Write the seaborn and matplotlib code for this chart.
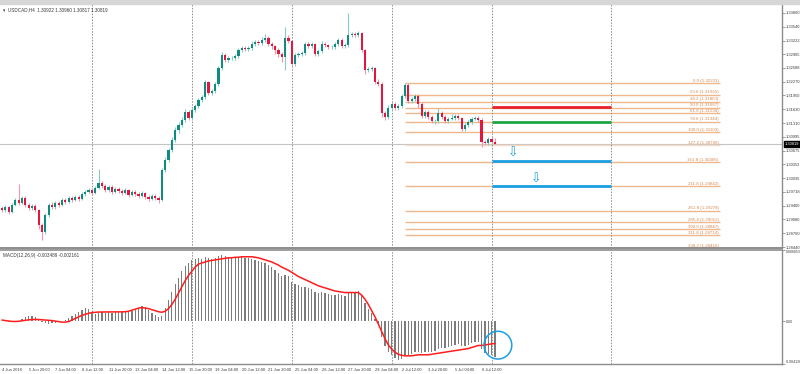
import matplotlib
matplotlib.use("Agg")
import matplotlib.pyplot as plt
import numpy as np
import seaborn as sns

# ---- USDCAD H4 candles (bar 0 = 4 Jun 2018 12:00) ----
first_open = 1.2935
closes = [1.2930, 1.2937, 1.2925, 1.2941, 1.2953, 1.2946, 1.2958, 1.2941, 1.2934, 1.2939,
          1.2930, 1.2895, 1.2879, 1.2918, 1.2941, 1.2937, 1.2946, 1.2941, 1.2953, 1.2948,
          1.2958, 1.2953, 1.2960, 1.2955, 1.2967, 1.2971, 1.2976, 1.2969, 1.2981, 1.2992,
          1.2985, 1.2976, 1.2983, 1.2971, 1.2978, 1.2974, 1.2969, 1.2976, 1.2964, 1.2971,
          1.2967, 1.2962, 1.2969, 1.2960, 1.2955, 1.2962, 1.2958, 1.2953, 1.3022, 1.3046,
          1.3069, 1.3092, 1.3115, 1.3127, 1.3138, 1.3157, 1.3143, 1.3161, 1.3171, 1.3185,
          1.3191, 1.3226, 1.3201, 1.3205, 1.3222, 1.3259, 1.3289, 1.3277, 1.3282, 1.3282,
          1.3286, 1.3300, 1.3305, 1.3303, 1.3305, 1.3314, 1.3319, 1.3317, 1.3323, 1.3328,
          1.3314, 1.3310, 1.3300, 1.3291, 1.3284, 1.3328, 1.3321, 1.3268, 1.3289, 1.3291,
          1.3293, 1.3314, 1.3310, 1.3314, 1.3291, 1.3298, 1.3314, 1.3312, 1.3307, 1.3307,
          1.3314, 1.3323, 1.3310, 1.3312, 1.3335, 1.3337, 1.3335, 1.3340, 1.3300, 1.3254,
          1.3256, 1.3259, 1.3226, 1.3222, 1.3154, 1.3145, 1.3166, 1.3175, 1.3166, 1.3171,
          1.3194, 1.3219, 1.3182, 1.3187, 1.3194, 1.3175, 1.3147, 1.3157, 1.3145, 1.3136,
          1.3136, 1.3154, 1.3145, 1.3136, 1.3141, 1.3143, 1.3147, 1.3143, 1.3117, 1.3127,
          1.3134, 1.3141, 1.3143, 1.3138, 1.3087, 1.3085, 1.3094, 1.3087, 1.30819]
highs = [1.2940, 1.2942, 1.2940, 1.2946, 1.2958, 1.2990, 1.2963, 1.2961, 1.2945, 1.2944,
         1.2943, 1.2933, 1.2900, 1.2922, 1.2946, 1.2948, 1.2950, 1.2951, 1.2957, 1.2958,
         1.2963, 1.2962, 1.2965, 1.2964, 1.2971, 1.2976, 1.2981, 1.2980, 1.2986, 1.3025,
         1.2997, 1.2989, 1.2988, 1.2987, 1.2983, 1.2982, 1.2978, 1.2980, 1.2979, 1.2975,
         1.2975, 1.2971, 1.2973, 1.2972, 1.2964, 1.2966, 1.2966, 1.2962, 1.3027, 1.3052,
         1.3074, 1.3098, 1.3121, 1.3133, 1.3145, 1.3163, 1.3162, 1.3166, 1.3176, 1.3190,
         1.3196, 1.3230, 1.3229, 1.3210, 1.3227, 1.3264, 1.3296, 1.3293, 1.3287, 1.3286,
         1.3291, 1.3305, 1.3310, 1.3309, 1.3309, 1.3320, 1.3324, 1.3323, 1.3330, 1.3337,
         1.3332, 1.3318, 1.3313, 1.3304, 1.3295, 1.3354, 1.3334, 1.3324, 1.3294, 1.3295,
         1.3297, 1.3319, 1.3318, 1.3318, 1.3317, 1.3302, 1.3320, 1.3318, 1.3315, 1.3311,
         1.3318, 1.3328, 1.3327, 1.3316, 1.3386, 1.3342, 1.3341, 1.3345, 1.3343, 1.3303,
         1.3261, 1.3264, 1.3262, 1.3232, 1.3226, 1.3160, 1.3172, 1.3180, 1.3180, 1.3176,
         1.3199, 1.3224, 1.3223, 1.3192, 1.3198, 1.3198, 1.3180, 1.3162, 1.3162, 1.3149,
         1.3141, 1.3166, 1.3158, 1.3149, 1.3146, 1.3151, 1.3152, 1.3151, 1.3146, 1.3132,
         1.3139, 1.3146, 1.3148, 1.3147, 1.3142, 1.3092, 1.3099, 1.3098, 1.3096]
lows = [1.2925, 1.2926, 1.2920, 1.2922, 1.2938, 1.2942, 1.2943, 1.2937, 1.2929, 1.2930,
        1.2925, 1.2885, 1.2860, 1.2875, 1.2914, 1.2932, 1.2933, 1.2936, 1.2938, 1.2944,
        1.2945, 1.2949, 1.2950, 1.2951, 1.2952, 1.2963, 1.2968, 1.2965, 1.2966, 1.2978,
        1.2980, 1.2971, 1.2972, 1.2967, 1.2968, 1.2970, 1.2965, 1.2966, 1.2960, 1.2961,
        1.2963, 1.2958, 1.2959, 1.2956, 1.2950, 1.2952, 1.2954, 1.2945, 1.2950, 1.3018,
        1.3040, 1.3064, 1.3088, 1.3108, 1.3122, 1.3133, 1.3138, 1.3139, 1.3156, 1.3166,
        1.3180, 1.3187, 1.3196, 1.3196, 1.3201, 1.3218, 1.3254, 1.3272, 1.3273, 1.3277,
        1.3278, 1.3282, 1.3296, 1.3298, 1.3299, 1.3301, 1.3310, 1.3312, 1.3313, 1.3319,
        1.3309, 1.3303, 1.3290, 1.3285, 1.3272, 1.3254, 1.3316, 1.3261, 1.3263, 1.3284,
        1.3287, 1.3289, 1.3305, 1.3306, 1.3286, 1.3286, 1.3294, 1.3307, 1.3302, 1.3303,
        1.3302, 1.3309, 1.3305, 1.3306, 1.3308, 1.3330, 1.3331, 1.3331, 1.3296, 1.3245,
        1.3249, 1.3251, 1.3221, 1.3216, 1.3146, 1.3139, 1.3141, 1.3161, 1.3161, 1.3161,
        1.3167, 1.3190, 1.3177, 1.3178, 1.3183, 1.3165, 1.3142, 1.3143, 1.3140, 1.3131,
        1.3130, 1.3132, 1.3140, 1.3131, 1.3132, 1.3137, 1.3139, 1.3138, 1.3112, 1.3113,
        1.3122, 1.3130, 1.3137, 1.3133, 1.3076, 1.3080, 1.3081, 1.3083, 1.3082]

# MACD(12,26,9): main (histogram) and signal, in units of 1e-4
macd_main_e4 = [0.5, -0.3, -0.8, -1.0, -0.8, -0.5, 2, 4, 5, 5,
                4, 1, -1, -2, -2.5, -2, -1.5, -0.5, 0.5, 1.5,
                3, 5, 7, 9, 11, 13, 12, 9, 7, 8,
                9, 8, 9, 8, 9, 9, 9, 10, 9, 10,
                11, 13, 15, 14, 11, 8, 6, 4, 5, 13,
                20, 28, 36, 42, 48, 53, 56, 59, 60, 61,
                60, 62, 61, 60, 61, 63, 64, 63, 62, 61,
                61, 62, 62, 61, 61, 60, 59, 58, 57, 56,
                54, 52, 49, 46, 43, 44, 43, 38, 36, 35,
                33, 33, 32, 31, 28, 27, 28, 27, 26, 25,
                25, 26, 25, 24, 27, 28, 28, 29, 25, 17,
                12, 8, 2, -3, -15, -24, -30, -33, -36, -38,
                -37, -33, -33, -32, -30, -30, -31, -30, -30, -30,
                -29, -27, -26, -26, -25, -24, -23, -22, -24, -24,
                -23, -21, -20, -20, -27, -31, -32, -33, -34.89]
macd_signal_e4 = [1, 0.5, 0, -0.3, -0.4, -0.2, 0.3, 0.8, 1.2, 1.5,
                  1.6, 1.5, 1.2, 1.0, 0.8, 0.5, 0, -0.5, -1, -1,
                  -0.5, 1, 2.5, 4, 5.5, 6.5, 7.5, 8.2, 8.5, 8.7,
                  8.8, 8.8, 8.8, 8.7, 8.7, 8.8, 8.9, 9, 9.5, 10.5,
                  11.5, 12.5, 13, 12.5, 12, 11, 10, 9, 8.5, 9.5,
                  12, 16, 21, 27, 33, 39, 44, 48, 52, 55,
                  56, 57, 58, 58.5, 59, 59.5, 60, 60.5, 61, 61,
                  61.5, 61.5, 62, 62, 62, 62, 61.5, 61, 60, 59,
                  58, 57, 55.5, 54, 52, 50.5, 49, 47, 45, 43,
                  41.5, 40, 38.5, 37, 35.5, 34, 33, 32, 31, 30,
                  29, 28.5, 28, 27.5, 27.5, 27.5, 27.5, 27.5, 25, 21,
                  16, 10, 4, -3, -10, -17, -23, -27, -30, -32,
                  -33, -33.5, -33.5, -33.5, -33, -32.5, -32.5, -32.5, -32.5, -32,
                  -31.5, -31, -30.5, -30, -29.5, -29, -28.5, -28, -27.5, -27,
                  -26.5, -25.5, -24.5, -23.5, -23.5, -23, -22.5, -22, -21.61]

# time axis
date_ticks = [0, 8, 16, 24, 32, 40, 48, 56, 64, 72, 80, 88, 96, 104, 112, 120, 128, 136, 144]
date_labels = ["4 Jun 2018", "5 Jun 20:00", "7 Jun 04:00", "8 Jun 12:00", "11 Jun 20:00",
               "13 Jun 04:00", "14 Jun 12:00", "15 Jun 20:00", "19 Jun 04:00", "20 Jun 12:00",
               "21 Jun 20:00", "25 Jun 04:00", "26 Jun 12:00", "27 Jun 20:00", "29 Jun 04:00",
               "2 Jul 12:00", "3 Jul 20:00", "5 Jul 04:00", "6 Jul 12:00"]
week_separators = [27, 57, 87, 117, 147, 183]

price_ticks = [1.33860, 1.33540, 1.33222, 1.32905, 1.32588, 1.32270, 1.31950, 1.31630,
               1.31310, 1.30995, 1.30675, 1.30352, 1.30035, 1.29718, 1.29400, 1.29080,
               1.28760, 1.28440]
last_price = 1.30819

# fibonacci expansion drawn from 2 Jul
fib_ratios = ["0.0", "23.6", "38.2", "50.0", "61.8", "78.6", "100.0", "127.2", "161.8",
              "211.8", "261.8", "285.4", "300.0", "311.8", "338.2"]
fib_prices = [1.32231, 1.31965, 1.31800, 1.31667, 1.31534, 1.31344, 1.31103, 1.30796,
              1.30406, 1.29842, 1.29278, 1.29012, 1.28847, 1.28714, 1.28416]
fib_start, fib_end = 121, 215.6

# drawn levels (start bar, end bar, price)
level_start, level_end = 147, 183
red_level = 1.31689
green_level = 1.31335
blue_levels = [1.30439, 1.29846]
arrow_bars = [153.4, 160.4]
arrow_prices = [1.30617, 1.30015]

sns.set_style("white")
plt.rcParams["font.family"] = ["Liberation Sans", "DejaVu Sans"]

UP, DOWN = "#0f8c82", "#e3173d"
UP_WICK, DOWN_WICK = "#86cbc4", "#f195a8"
SEP = "#8c8c8c"
TXT = "#3a3a3a"
FS_AX = 2.9     # axis labels
FS_TXT = 3.3    # panel titles

fig = plt.figure(figsize=(8, 3.74), dpi=100)
fig.patches.append(plt.Rectangle((0, 370 / 374), 1, 4 / 374, transform=fig.transFigure,
                                 color="#d6d6d6", zorder=0))
ax = fig.add_axes([0, 126 / 374, 782 / 800, 244 / 374])
axm = fig.add_axes([0, 10 / 374, 782 / 800, 114 / 374])

idx = np.arange(len(closes))
c = np.array(closes)
o = np.array([first_open] + closes[:-1])
up = c >= o

# candles
ax.vlines(idx, lows, highs, colors=np.where(up, UP_WICK, DOWN_WICK), lw=0.8, zorder=2)
body = np.maximum(np.abs(c - o), 0.00005)
ax.bar(idx, body, bottom=np.minimum(o, c), width=0.66,
       color=np.where(up, UP, DOWN), linewidth=0, zorder=3)

ax.axhline(last_price, color="#c4c4c4", lw=0.8, zorder=1)

# fibonacci lines + labels
for r, p in zip(fib_ratios, fib_prices):
    col = "#f7d9c4" if r == "127.2" else "#efb88c"
    ax.hlines(p, fib_start, fib_end, color=col, lw=1.0, zorder=1)
    ax.text(fib_end - 0.5, p + 0.00012, f"{r} ({p:.5f})", ha="right", va="bottom",
            fontsize=3.2, color="#d68a50", zorder=4)

ax.hlines(red_level, level_start, level_end, color="#e8202a", lw=2.0, zorder=4)
ax.hlines(green_level, level_start, level_end, color="#1fa646", lw=2.0, zorder=4)
for p in blue_levels:
    ax.hlines(p, level_start, level_end, color="#1b9fe4", lw=2.0, zorder=4)
for xb, p in zip(arrow_bars, arrow_prices):
    ax.text(xb, p, "\u21e9", ha="center", va="center", fontsize=9, color="#1b9fe4",
            family="DejaVu Sans", zorder=5)

# MACD panel
axm.bar(idx, np.array(macd_main_e4) * 1e-4, width=0.38, color="#7c7c7c", linewidth=0, zorder=2)
sns.lineplot(x=idx, y=np.array(macd_signal_e4) * 1e-4, ax=axm, color="#ff1c1c", lw=1.1, zorder=3)
axm.scatter([148.9], [-0.00232], s=400, facecolors="none", edgecolors="#1b9fe4", lw=1.1, zorder=5)

for a in (ax, axm):
    a.set_xlim(-0.6, 234.2)
    for xs in week_separators:
        a.axvline(xs, color=SEP, lw=0.7, ls=(0, (1.5, 1.5)), zorder=1)
    a.yaxis.tick_right()
    a.tick_params(axis="y", direction="out", length=2, width=0.6, colors=SEP,
                  labelcolor=TXT, labelsize=FS_AX, pad=0.8)
    a.spines["left"].set_visible(False)
    a.spines["top"].set_visible(False)
    a.spines["right"].set_color(SEP)
    a.spines["right"].set_linewidth(1.0)
    a.set_xlabel("")
    a.set_ylabel("")

ax.set_ylim(1.28417, 1.34068)
ax.set_yticks(price_ticks)
ax.set_yticklabels([f"{p:.5f}" for p in price_ticks])
ax.set_xticks([])
ax.spines["bottom"].set_color(SEP)
ax.spines["bottom"].set_linewidth(1.4)
ax.annotate(f"{last_price:.5f}", xy=(1.0, last_price), xycoords=("axes fraction", "data"),
            xytext=(2.2, 0), textcoords="offset points", ha="left", va="center",
            fontsize=FS_AX, color="white",
            bbox=dict(boxstyle="square,pad=0.2", fc="black", ec="black"))

axm.set_ylim(-0.004138, 0.006853)
axm.set_yticks([0.006853, 0.0, -0.004138])
axm.set_yticklabels(["0.006853", "0.00", "-0.004138"])
axm.tick_params(axis="y", labelsize=2.5, pad=0.5)
yl = axm.get_yticklabels()
yl[0].set_va("top")
yl[2].set_va("bottom")
axm.spines["top"].set_visible(True)
axm.spines["top"].set_color(SEP)
axm.spines["top"].set_linewidth(1.2)
axm.spines["bottom"].set_color(SEP)
axm.spines["bottom"].set_linewidth(1.0)
axm.set_xticks(date_ticks)
axm.set_xticklabels(date_labels)
axm.tick_params(axis="x", direction="out", length=2, width=0.6, colors=SEP,
                labelcolor=TXT, labelsize=FS_AX, pad=0.8)
for lab in axm.get_xticklabels():
    lab.set_ha("left")

ax.text(0.004, 0.985, "\u25be  USDCAD,H4  1.30922 1.30960 1.30817 1.30819",
        transform=ax.transAxes, ha="left", va="top", fontsize=FS_TXT, color=TXT,
        family=["Liberation Sans", "DejaVu Sans"])
axm.text(0.004, 0.975, "MACD(12,26,9) -0.003489 -0.002161",
         transform=axm.transAxes, ha="left", va="top", fontsize=FS_TXT, color=TXT)

fig.savefig("out.png", dpi=100)
